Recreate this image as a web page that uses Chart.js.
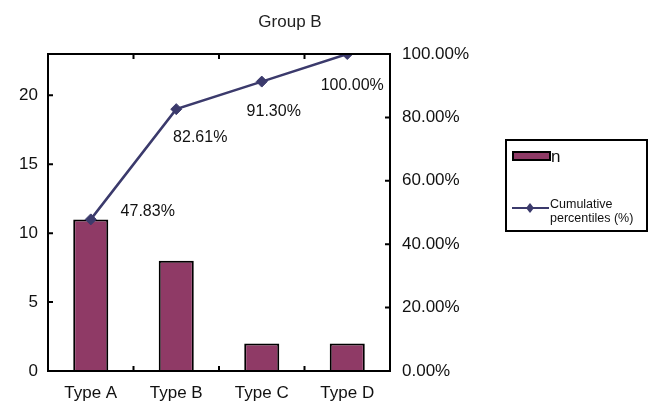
<!DOCTYPE html>
<html>
<head>
<meta charset="utf-8">
<script src="https://cdn.jsdelivr.net/npm/chart.js@4.4.0/dist/chart.umd.min.js"></script>
<style>
  html, body { margin: 0; padding: 0; background: #fff; }
  #wrap { width: 657px; height: 403px; position: relative; }
</style>
</head>
<body>
<div id="wrap"><canvas id="pareto"></canvas></div>
<script>
// data
var categories = ['Type A', 'Type B', 'Type C', 'Type D'];
var counts = [11, 8, 2, 2];
var cumulative = [47.83, 82.61, 91.30, 100.00];
var pct_ticks = [0, 20, 40, 60, 80, 100];

const FONT = "'Liberation Sans', Arial, Helvetica, sans-serif";
const BAR_COLOR = '#8f3a66';
const LINE_COLOR = '#3b3a6c';

// label offsets from each point (dx, dy), label is centred on that spot
var label_offsets = [[57, -8], [24, 28], [12, 30], [5, 32]];

// frame, inward tick marks, point labels, title and legend
const decor = {
    id: 'decor',
    afterDraw(chart) {
        const c = chart.ctx;
        const a = chart.chartArea;
        const x = chart.scales.x, y = chart.scales.y, y1 = chart.scales.y1;
        c.save();
        c.strokeStyle = '#000';
        c.lineWidth = 2;
        c.strokeRect(a.left, a.top, a.right - a.left, a.bottom - a.top);

        c.beginPath();
        for (let i = 0; i < categories.length - 1; i++) {
            const px = (x.getPixelForTick(i) + x.getPixelForTick(i + 1)) / 2;
            c.moveTo(px, a.bottom); c.lineTo(px, a.bottom - 5);
            c.moveTo(px, a.top); c.lineTo(px, a.top + 5);
        }
        y.ticks.forEach(function(t, i) {
            const py = y.getPixelForTick(i);
            c.moveTo(a.left, py); c.lineTo(a.left + 5, py);
        });
        y1.ticks.forEach(function(t, i) {
            const py = y1.getPixelForTick(i);
            c.moveTo(a.right, py); c.lineTo(a.right - 5, py);
        });
        c.stroke();

        // cumulative labels
        const pts = chart.getDatasetMeta(1).data;
        c.fillStyle = '#111';
        c.font = '16px ' + FONT;
        c.textAlign = 'center';
        c.textBaseline = 'middle';
        pts.forEach(function(p, i) {
            c.fillText(cumulative[i].toFixed(2) + '%', p.x + label_offsets[i][0], p.y + label_offsets[i][1]);
        });

        // title
        c.font = '17px ' + FONT;
        c.fillStyle = '#222';
        c.fillText('Group B', 290, 22);

        // legend
        c.lineWidth = 2;
        c.strokeStyle = '#000';
        c.strokeRect(506, 140, 141, 91);
        c.fillStyle = BAR_COLOR;
        c.fillRect(513, 152, 37, 8);
        c.strokeRect(513, 152, 37, 8);
        c.fillStyle = '#111';
        c.textAlign = 'left';
        c.font = '17px ' + FONT;
        c.fillText('n', 551, 157);
        c.strokeStyle = LINE_COLOR;
        c.beginPath();
        c.moveTo(512, 208); c.lineTo(549, 208);
        c.stroke();
        c.fillStyle = LINE_COLOR;
        c.beginPath();
        c.moveTo(530, 203); c.lineTo(534, 208); c.lineTo(530, 213); c.lineTo(526, 208);
        c.closePath();
        c.fill();
        c.fillStyle = '#111';
        c.font = '12.5px ' + FONT;
        c.fillText('Cumulative', 550, 205);
        c.fillText('percentiles (%)', 550, 219);
        c.restore();
    }
};

const ctx = document.getElementById('pareto').getContext('2d');
const pareto = new Chart(ctx, {
    data: {
        labels: categories,
        datasets: [{
            type: 'bar',
            label: 'n',
            data: counts,
            backgroundColor: BAR_COLOR,
            borderColor: '#000',
            borderWidth: 2,
            borderSkipped: 'bottom',
            barPercentage: 1,
            categoryPercentage: 0.41,
            yAxisID: 'y',
            order: 2,
        }, {
            type: 'line',
            label: 'Cumulative percentiles (%)',
            data: cumulative,
            borderColor: LINE_COLOR,
            backgroundColor: LINE_COLOR,
            borderWidth: 2.5,
            pointStyle: 'rectRot',
            pointRadius: 5.5,
            pointBorderWidth: 1,
            tension: 0,
            yAxisID: 'y1',
            order: 1,
        }]
    },
    options: {
        responsive: true,
        maintainAspectRatio: false,
        animation: false,
        layout: { padding: { top: 54, right: 157, left: 0, bottom: 0 } },
        plugins: {
            legend: { display: false },
            title: { display: false },
            tooltip: { enabled: false },
        },
        scales: {
            x: {
                grid: { display: false },
                border: { display: false },
                ticks: { color: '#111', font: { family: FONT, size: 17 }, padding: 4 },
                afterFit(s) { s.height = 32; },
            },
            y: {
                position: 'left',
                min: 0,
                max: 23,
                grid: { display: false },
                border: { display: false },
                ticks: { stepSize: 5, includeBounds: false, color: '#111', font: { family: FONT, size: 17 }, padding: 2 },
                afterFit(s) { s.width = 48; },
            },
            y1: {
                position: 'right',
                min: 0,
                max: 100,
                grid: { display: false },
                border: { display: false },
                afterBuildTicks(s) { s.ticks = pct_ticks.map(function(v) { return { value: v }; }); },
                ticks: {
                    color: '#111', font: { family: FONT, size: 17 }, padding: 4,
                    callback: function(v) { return v.toFixed(2) + '%'; }
                },
                afterFit(s) { s.width = 110; },
            },
        },
    },
    plugins: [decor]
});
</script>
</body>
</html>
